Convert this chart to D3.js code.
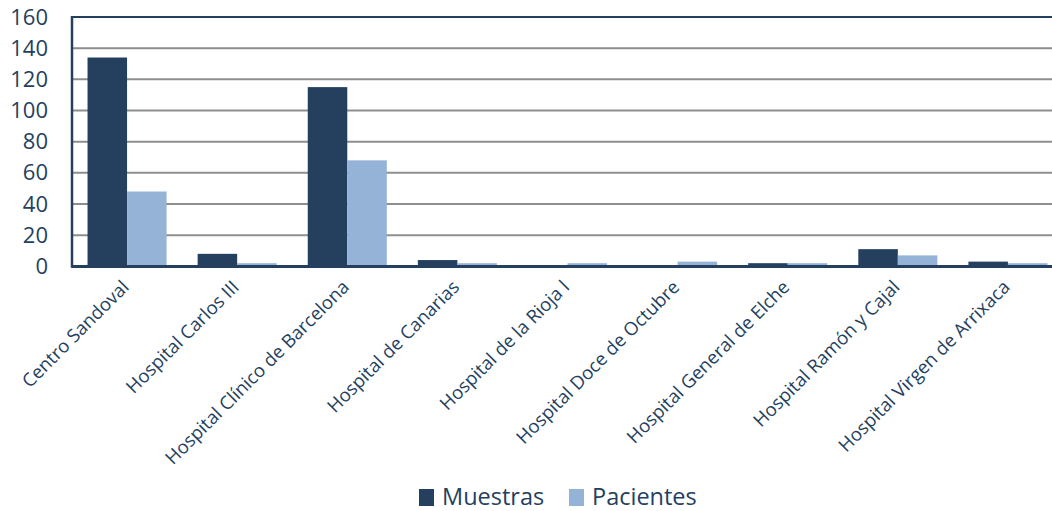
<!DOCTYPE html>
<html><head><meta charset="utf-8">
<script src="https://cdn.jsdelivr.net/npm/d3@7"></script>
<style>html,body{margin:0;padding:0;background:#fff;overflow:hidden}svg{display:block}</style>
</head><body><svg id="c" width="1052" height="511"></svg>
<script>
const categories = ["Centro Sandoval","Hospital Carlos III","Hospital Clínico de Barcelona","Hospital de Canarias","Hospital de la Rioja l","Hospital Doce de Octubre","Hospital General de Elche","Hospital Ramón y Cajal","Hospital Virgen de Arrixaca"];
const seriesNames = ["Muestras","Pacientes"];
const muestras = [134, 8, 115, 4, 0, 0, 2, 11, 3];
const pacientes = [48, 2, 68, 2, 2, 3, 2, 7, 2];
const yTicks = [0,20,40,60,80,100,120,140,160];
const colors = ["#253f5e","#95b3d7"];
const textColor = "#243f60";
const font = "'Open Sans', sans-serif";

const svg = d3.select("#c");
const L = 72, R = 1063, T = 17, B = 266.3;
const x0 = d3.scaleBand().domain(categories).range([L, R]).paddingInner(0.282).paddingOuter(0.141);
const x1 = d3.scaleBand().domain(seriesNames).range([0, x0.bandwidth()]);
const y = d3.scaleLinear().domain([0,160]).range([B, T]);

// gridlines
svg.append("g").selectAll("line").data(yTicks.filter(d=>d>0 && d<160)).join("line")
  .attr("x1", L).attr("x2", 1052).attr("y1", d=>y(d)).attr("y2", d=>y(d))
  .attr("stroke", "#8e8e8e").attr("stroke-width", 2);

const data = categories.map((c,i)=>({c, vals:[muestras[i], pacientes[i]]}));
svg.append("g").selectAll("g").data(data).join("g")
  .attr("transform", d=>`translate(${x0(d.c)},0)`)
  .selectAll("rect").data(d=>d.vals.map((v,j)=>({k:seriesNames[j], v, j}))).join("rect")
  .attr("x", d=>x1(d.k)).attr("width", x1.bandwidth())
  .attr("y", d=>y(d.v)).attr("height", d=>B - y(d.v))
  .attr("fill", d=>colors[d.j]);

// frame: top and left
svg.append("line").attr("x1", L).attr("x2", 1052).attr("y1", T).attr("y2", T).attr("stroke", "#243f60").attr("stroke-width", 2);
svg.append("line").attr("x1", L).attr("x2", L).attr("y1", T-1).attr("y2", B+1.5).attr("stroke", "#243f60").attr("stroke-width", 2.5);

// y axis
const yAxis = d3.axisLeft(y).tickValues(yTicks).tickSize(0).tickPadding(24);
const ga = svg.append("g").attr("transform", `translate(${L},0)`).call(yAxis);
ga.select(".domain").remove();
ga.selectAll("text").attr("fill", textColor).style("font-family", font).style("font-size", "22px");

// x axis
const xAxis = d3.axisBottom(x0).tickSize(0).tickPadding(0);
const gx = svg.append("g").attr("transform", `translate(0,${B})`).call(xAxis);
gx.select(".domain").remove();
svg.append("line").attr("x1", L).attr("x2", 1052).attr("y1", 266.5).attr("y2", 266.5).attr("stroke", "#243f60").attr("stroke-width", 3);
gx.selectAll(".tick text")
  .attr("fill", textColor).style("font-family", font).style("font-size", "18.5px")
  .attr("text-anchor", "end").attr("dy", null).attr("y", 0)
  .attr("transform", "translate(3,22) rotate(-45)");

// legend
const leg = svg.append("g");
const legX = [419, 569];
seriesNames.forEach((s,i)=>{
  leg.append("rect").attr("x", legX[i]).attr("y", 489).attr("width", 15).attr("height", 17).attr("fill", colors[i]);
  leg.append("text").attr("x", legX[i]+23).attr("y", 505).text(s)
    .attr("fill", textColor).style("font-family", font).style("font-size", "23.5px");
});
</script></body></html>
